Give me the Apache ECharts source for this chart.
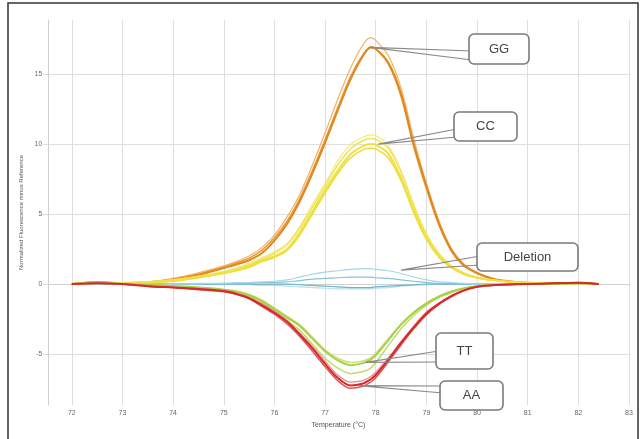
<!DOCTYPE html>
<html>
<head>
<meta charset="utf-8">
<script src="https://cdn.jsdelivr.net/npm/echarts@6/dist/echarts.min.js"></script>
<style>
html,body{margin:0;padding:0;background:#fff;}
#chart{width:643px;height:439px;}
</style>
</head>
<body>
<div id="chart"></div>
<script>
// Temperatures (°C) shared by every curve
const TEMPS = [72, 72.5, 73, 73.5, 74, 74.5, 75, 75.25, 75.5, 75.75, 76, 76.25, 76.5, 76.75, 77, 77.25, 77.5, 77.75, 77.9, 78, 78.25, 78.5, 78.75, 79, 79.25, 79.5, 79.75, 80, 80.25, 80.5, 81, 81.5, 82, 82.4];

const GG1 = [0, 0.15, 0.05, 0.1, 0.3, 0.65, 1.15, 1.4, 1.7, 2.2, 3.1, 4.3, 5.9, 7.9, 10.1, 12.4, 14.6, 16.3, 16.9, 16.8, 15.8, 13.6, 10.0, 7.0, 4.3, 2.4, 1.3, 0.8, 0.45, 0.25, 0.1, 0.05, 0.1, 0];
const GG2 = [0, 0.1, 0.1, 0.15, 0.35, 0.7, 1.2, 1.5, 1.85, 2.4, 3.3, 4.5, 6.1, 8.1, 10.3, 12.6, 14.8, 16.4, 16.95, 16.8, 15.7, 13.4, 9.8, 6.8, 4.2, 2.3, 1.25, 0.75, 0.4, 0.2, 0.1, 0.05, 0.1, 0];
const GG3 = [0, 0.15, 0.1, 0.15, 0.4, 0.8, 1.3, 1.6, 2.0, 2.6, 3.5, 4.8, 6.4, 8.5, 10.8, 13.2, 15.4, 17.1, 17.6, 17.4, 16.3, 14.0, 10.4, 7.2, 4.5, 2.5, 1.4, 0.8, 0.45, 0.25, 0.1, 0.1, 0.1, 0];

const CC1 = [0, 0.1, 0.05, 0.1, 0.25, 0.5, 0.8, 1.0, 1.3, 1.7, 2.0, 2.5, 3.7, 5.2, 6.7, 8.1, 9.25, 9.85, 10.0, 9.95, 9.3, 7.6, 5.3, 3.3, 2.0, 1.2, 0.7, 0.45, 0.3, 0.2, 0.1, 0.05, 0.05, 0];
const CC2 = [0, 0.1, 0.1, 0.15, 0.3, 0.55, 0.85, 1.1, 1.4, 1.8, 2.2, 2.8, 4.0, 5.5, 7.0, 8.5, 9.65, 10.25, 10.4, 10.35, 9.7, 8.0, 5.6, 3.5, 2.1, 1.25, 0.75, 0.45, 0.3, 0.2, 0.1, 0.1, 0.05, 0];
const CC3 = [0, 0.05, 0.1, 0.15, 0.3, 0.55, 0.9, 1.15, 1.5, 1.9, 2.3, 2.9, 4.1, 5.7, 7.2, 8.8, 9.95, 10.5, 10.65, 10.6, 9.9, 8.1, 5.7, 3.6, 2.2, 1.3, 0.8, 0.5, 0.3, 0.2, 0.1, 0.05, 0.05, 0];
const CC4 = [0, 0.1, 0.05, 0.1, 0.2, 0.45, 0.75, 0.95, 1.2, 1.6, 1.9, 2.4, 3.5, 5.0, 6.5, 7.9, 9.0, 9.6, 9.7, 9.65, 9.0, 7.4, 5.1, 3.2, 1.9, 1.15, 0.7, 0.45, 0.3, 0.2, 0.1, 0.05, 0.05, 0];

const DEL1 = [0, 0, 0.05, 0, 0, 0.05, 0.05, 0.1, 0.1, 0.15, 0.2, 0.3, 0.5, 0.7, 0.85, 0.95, 1.05, 1.1, 1.1, 1.05, 0.95, 0.75, 0.5, 0.3, 0.15, 0.1, 0.05, 0, 0, 0, 0, 0, 0, 0];
const DEL2 = [0, 0, 0, 0.05, 0, 0, 0.05, 0.05, 0.05, 0.1, 0.1, 0.15, 0.25, 0.35, 0.4, 0.45, 0.5, 0.5, 0.5, 0.45, 0.4, 0.3, 0.2, 0.1, 0.05, 0.05, 0, 0, 0, 0, 0, 0, 0, 0];
const DEL3 = [0, 0, 0, 0, 0, 0, 0, 0, 0, 0, 0, 0, -0.05, -0.1, -0.15, -0.2, -0.25, -0.25, -0.25, -0.2, -0.15, -0.1, -0.05, 0, 0, 0, 0, 0, 0, 0, 0, 0, 0, 0];
const DEL4 = [0, 0, 0, 0, 0, 0, 0, -0.05, -0.05, -0.1, -0.1, -0.15, -0.2, -0.25, -0.3, -0.35, -0.35, -0.35, -0.35, -0.3, -0.25, -0.15, -0.1, -0.05, 0, 0, 0, 0, 0, 0, 0, 0, 0, 0];

const TT1 = [0, 0.1, 0, -0.05, -0.15, -0.25, -0.4, -0.55, -0.8, -1.2, -1.8, -2.4, -3.0, -3.9, -4.8, -5.45, -5.8, -5.65, -5.4, -5.1, -4.0, -2.9, -2.05, -1.4, -0.9, -0.55, -0.3, -0.15, -0.08, -0.03, 0, 0, 0.05, 0];
const TT2 = [0, 0.1, 0, -0.05, -0.15, -0.3, -0.45, -0.6, -0.9, -1.3, -1.95, -2.6, -3.3, -4.3, -5.3, -6.0, -6.4, -6.25, -6.0, -5.6, -4.4, -3.2, -2.25, -1.5, -0.95, -0.6, -0.3, -0.15, -0.08, -0.03, 0, 0, 0.05, 0];
const TT3 = [0, 0.05, 0.05, -0.05, -0.1, -0.25, -0.4, -0.5, -0.75, -1.15, -1.7, -2.3, -2.9, -3.8, -4.7, -5.3, -5.6, -5.5, -5.25, -4.95, -3.9, -2.85, -2.0, -1.35, -0.85, -0.5, -0.3, -0.15, -0.05, 0, 0, 0, 0, 0];

const AA1 = [0, 0.05, 0, -0.15, -0.25, -0.35, -0.5, -0.7, -1.0, -1.5, -2.05, -2.7, -3.6, -4.6, -5.7, -6.7, -7.25, -7.1, -6.8, -6.5, -5.4, -4.2, -3.1, -2.1, -1.4, -0.85, -0.45, -0.2, -0.1, -0.05, 0, 0.05, 0.1, 0];
const AA2 = [0, 0.05, 0, -0.15, -0.25, -0.4, -0.55, -0.75, -1.05, -1.6, -2.15, -2.85, -3.75, -4.8, -5.9, -6.9, -7.45, -7.3, -7.0, -6.7, -5.55, -4.35, -3.2, -2.2, -1.45, -0.9, -0.45, -0.2, -0.1, -0.05, 0, 0.05, 0.1, 0];
const AA3 = [0, 0.05, 0, -0.1, -0.2, -0.3, -0.45, -0.65, -0.95, -1.4, -1.95, -2.6, -3.5, -4.45, -5.5, -6.5, -7.0, -6.9, -6.6, -6.3, -5.25, -4.1, -3.0, -2.0, -1.35, -0.8, -0.4, -0.2, -0.1, -0.05, 0, 0.05, 0.05, 0];

const X_TICKS = [72, 73, 74, 75, 76, 77, 78, 79, 80, 81, 82, 83];
const Y_TICKS = [-5, 0, 5, 10, 15];

// Callout labels: text and the data point each one points at
const CALLOUT_TEXT = ['GG', 'CC', 'Deletion', 'TT', 'AA'];
const CALLOUT_TARGET = [[77.9, 16.9], [78.05, 10.0], [78.5, 1.0], [77.8, -5.6], [77.65, -7.25]];

const pairs = arr => TEMPS.map((t, i) => [t, arr[i]]);

const SERIES_DEF = [
  {d: DEL4, c: '#B8E0EA', w: 1.2},
  {d: DEL3, c: '#6EB4CC', w: 1.2},
  {d: DEL2, c: '#86C4D6', w: 1.2},
  {d: DEL1, c: '#A6D6E2', w: 1.2},
  {d: GG3, c: '#F2B266', w: 1.2},
  {d: GG2, c: '#E99A3A', w: 1.5},
  {d: GG1, c: '#DF8A1E', w: 2},
  {d: CC4, c: '#E8DC30', w: 1.5},
  {d: CC3, c: '#F4EC80', w: 1.2},
  {d: CC2, c: '#EEE35A', w: 1.5},
  {d: CC1, c: '#F0E040', w: 2},
  {d: TT3, c: '#C9E27A', w: 1.5},
  {d: TT2, c: '#BFDD66', w: 1.5},
  {d: TT1, c: '#A9CF45', w: 2},
  {d: AA3, c: '#E88888', w: 1.2},
  {d: AA2, c: '#E05555', w: 1.5},
  {d: AA1, c: '#D42A2A', w: 2}
];

const chart = echarts.init(document.getElementById('chart'), null, {renderer: 'canvas'});
const FONT = '"Liberation Sans", Arial, sans-serif';

chart.setOption({
  animation: false,
  backgroundColor: '#fff',
  grid: {left: 48, right: 14, top: 20, bottom: 34, containLabel: false, outerBoundsMode: 'none'},
  xAxis: {
    type: 'value', min: 71.53, max: 83,
    name: 'Temperature (°C)', nameLocation: 'middle', nameGap: 16,
    nameTextStyle: {fontSize: 7, color: '#555', fontFamily: FONT},
    axisLine: {lineStyle: {color: '#cfcfcf', width: 1}},
    axisTick: {show: true, length: 3, lineStyle: {color: '#cfcfcf'}, customValues: X_TICKS},
    axisLabel: {fontSize: 7, color: '#666', fontFamily: FONT, margin: 5, customValues: X_TICKS, showMinLabel: true, showMaxLabel: true},
    splitLine: {show: true, lineStyle: {color: '#dedede', width: 1}}
  },
  yAxis: {
    type: 'value', min: -8.64, max: 18.86,
    name: 'Normalized Fluorescence minus Reference', nameLocation: 'middle', nameGap: 19, nameRotate: 90,
    nameTextStyle: {fontSize: 6, color: '#555', fontFamily: FONT},
    axisLine: {show: true, lineStyle: {color: '#cfcfcf', width: 1}},
    axisTick: {show: true, length: 5, lineStyle: {color: '#dedede'}, customValues: Y_TICKS},
    axisLabel: {fontSize: 6.5, color: '#666', fontFamily: FONT, margin: 6, customValues: Y_TICKS},
    splitLine: {show: true, lineStyle: {color: '#dedede', width: 1}}
  },
  series: SERIES_DEF.map(s => ({
    type: 'line', data: pairs(s.d), showSymbol: false, symbol: 'none',
    smooth: 0.3,
    lineStyle: {color: s.c, width: s.w}, itemStyle: {color: s.c}, silent: true
  }))
});

// Callout boxes (layout in pixels, pointers anchored to data coordinates)
const BOXES = [
  {x: 469, y: 34, w: 60, h: 30, t1: 51, t2: 60},
  {x: 454, y: 112, w: 63, h: 29, t1: 129, t2: 137},
  {x: 477, y: 243, w: 101, h: 28, t1: 256, t2: 265},
  {x: 436, y: 333, w: 57, h: 36, t1: 351, t2: 362},
  {x: 440, y: 381, w: 63, h: 29, t1: 386, t2: 393}
];
const graphics = [];
BOXES.forEach((b, i) => {
  const p = chart.convertToPixel({gridIndex: 0}, CALLOUT_TARGET[i]);
  graphics.push({type: 'polyline', z: 100, shape: {points: [[b.x + 3, b.t1], p, [b.x + 3, b.t2]]},
    style: {stroke: '#8a8a8a', lineWidth: 1.2, fill: null}});
  graphics.push({type: 'rect', z: 101, shape: {x: b.x, y: b.y, width: b.w, height: b.h, r: 5},
    style: {fill: '#fff', stroke: '#7a7a7a', lineWidth: 1.6}});
  graphics.push({type: 'text', z: 102, style: {x: b.x + b.w / 2, y: b.y + b.h / 2, text: CALLOUT_TEXT[i],
    fontSize: 13, fill: '#444', fontFamily: FONT, align: 'center', verticalAlign: 'middle'}});
});
graphics.push({type: 'rect', z: 200, shape: {x: 8, y: 3, width: 630, height: 445},
  style: {fill: null, stroke: '#333', lineWidth: 1.5}});
chart.setOption({graphic: graphics});
</script>
</body>
</html>
